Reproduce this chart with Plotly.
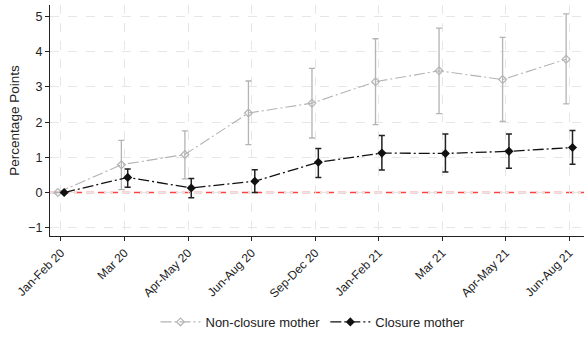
import plotly.graph_objects as go

categories = ["Jan-Feb 20", "Mar 20", "Apr-May 20", "Jun-Aug 20", "Sep-Dec 20",
              "Jan-Feb 21", "Mar 21", "Apr-May 21", "Jun-Aug 21"]

nonclosure = [0.0, 0.79, 1.08, 2.26, 2.54, 3.15, 3.46, 3.21, 3.79]
nonclosure_hi = [0.0, 1.48, 1.75, 3.17, 3.53, 4.37, 4.67, 4.41, 5.08]
nonclosure_lo = [0.0, 0.08, 0.39, 1.36, 1.55, 1.93, 2.24, 2.02, 2.52]

closure = [0.0, 0.43, 0.13, 0.32, 0.86, 1.12, 1.11, 1.17, 1.28]
closure_hi = [0.0, 0.67, 0.40, 0.65, 1.25, 1.62, 1.66, 1.66, 1.76]
closure_lo = [0.0, 0.15, -0.15, 0.00, 0.43, 0.64, 0.58, 0.69, 0.80]

yticks = [-1, 0, 1, 2, 3, 4, 5]

idx = list(range(len(categories)))
off = 0.05

fig = go.Figure()

fig.add_trace(go.Scatter(
    x=[i - off for i in idx], y=nonclosure,
    mode="lines+markers", name="Non-closure mother",
    line=dict(color="#b4b4b4", width=1.1, dash="11px,3px,2px,3px"),
    marker=dict(symbol="diamond-open", size=6, color="#b4b4b4", line=dict(width=1.2, color="#b4b4b4")),
    error_y=dict(type="data", symmetric=False,
                 array=[h - v for h, v in zip(nonclosure_hi, nonclosure)],
                 arrayminus=[v - l for v, l in zip(nonclosure, nonclosure_lo)],
                 color="#b4b4b4", thickness=1.3, width=3),
))

fig.add_trace(go.Scatter(
    x=[i + off for i in idx], y=closure,
    mode="lines+markers", name="Closure mother",
    line=dict(color="#111111", width=1.3, dash="11px,3px,2px,3px"),
    marker=dict(symbol="diamond", size=7, color="#111111"),
    error_y=dict(type="data", symmetric=False,
                 array=[h - v for h, v in zip(closure_hi, closure)],
                 arrayminus=[v - l for v, l in zip(closure, closure_lo)],
                 color="#222222", thickness=1.5, width=3),
))

fig.add_shape(type="line", xref="paper", yref="y", x0=0, x1=1, y0=0, y1=0,
              line=dict(color="#ff4040", width=1.6, dash="8px,4px"), layer="below")

fig.update_layout(
    width=584, height=337,
    margin=dict(l=50, r=0, t=5, b=101),
    paper_bgcolor="white", plot_bgcolor="white",
    font=dict(family="Liberation Sans, Arial, sans-serif", size=12, color="#222222"),
    showlegend=True,
    legend=dict(orientation="h", x=0.4925, xanchor="center", y=-0.372, yanchor="middle",
                font=dict(size=13), itemwidth=40, tracegroupgap=0),
    xaxis=dict(
        range=[-0.173, 8.231],
        tickmode="array", tickvals=idx, ticktext=categories,
        tickangle=-45, ticks="outside", ticklen=4, tickcolor="#222222",
        showline=True, linecolor="#222222", linewidth=1.3,
        showgrid=True, gridcolor="#e6e6e6", griddash="dash", gridwidth=1,
        zeroline=False, tickfont=dict(size=12),
    ),
    yaxis=dict(
        range=[-1.236, 5.33],
        tickmode="array", tickvals=yticks,
        ticks="outside", ticklen=4, tickcolor="#222222",
        showline=True, linecolor="#222222", linewidth=1.3,
        showgrid=True, gridcolor="#e6e6e6", griddash="dash", gridwidth=1,
        zeroline=False, tickfont=dict(size=12.5),
        title=dict(text="Percentage Points", font=dict(size=13.5), standoff=5),
    ),
)

fig.write_html("out.html")
